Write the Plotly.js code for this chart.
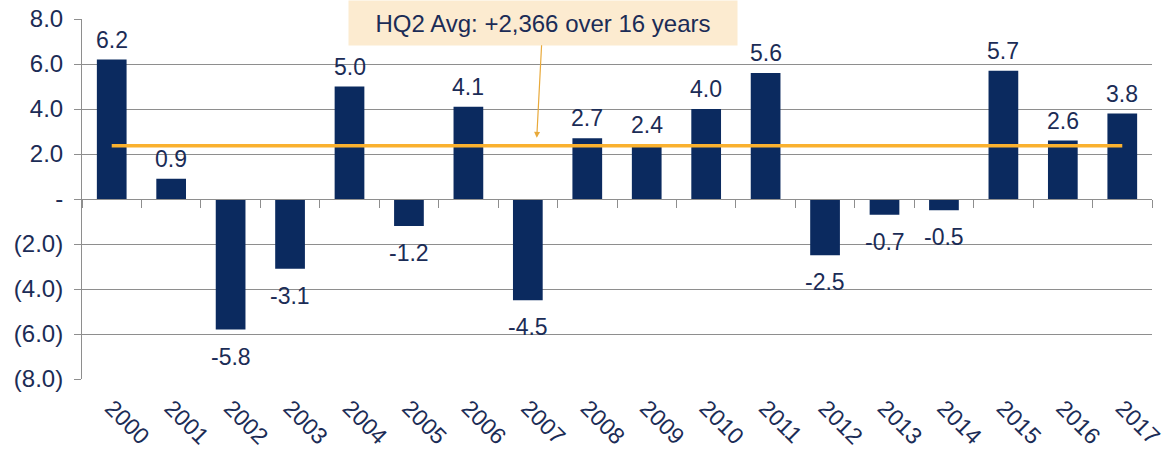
<!DOCTYPE html>
<html>
<head>
<meta charset="utf-8">
<script src="https://cdn.plot.ly/plotly-3.0.1.min.js"></script>
<style>html,body{margin:0;padding:0;background:#fff;}#chart{width:1174px;height:455px;}</style>
</head>
<body>
<div id="chart"></div>
<script>
const years = ['2000','2001','2002','2003','2004','2005','2006','2007','2008','2009','2010','2011','2012','2013','2014','2015','2016','2017'];
const values = [6.2, 0.9, -5.8, -3.1, 5.0, -1.2, 4.1, -4.5, 2.7, 2.4, 4.0, 5.6, -2.5, -0.7, -0.5, 5.7, 2.6, 3.8];
const avgValue = 2.366;
const avgLabel = 'HQ2 Avg: +2,366 over 16 years';
const yTickVals = [8, 6, 4, 2, 0, -2, -4, -6, -8];
const yTickText = ['8.0', '6.0', '4.0', '2.0', '-', '(2.0)', '(4.0)', '(6.0)', '(8.0)'];

const NAVY = '#0B2A5F';
const TXT = '#1B2C56';
const GRID = '#8E8E8E';
const ORANGE = '#FAB12F';
const FONT = 'Liberation Sans, Arial, sans-serif';

const bars = {
  type: 'bar', x: years, y: values, xaxis: 'x', yaxis: 'y',
  marker: {color: NAVY}, hoverinfo: 'x+y'
};
const avgLine = {
  type: 'scatter', mode: 'lines', xaxis: 'x2', yaxis: 'y',
  x: [years[0], years[years.length - 1]], y: [avgValue, avgValue],
  line: {color: ORANGE, width: 3.5}, hoverinfo: 'y'
};

// category axes treat numeric-looking strings as indices in annotations, so use the index
const labelAnns = years.map((yr, i) => ({
  x: i, y: values[i], xref: 'x', yref: 'y',
  text: values[i].toFixed(1), showarrow: false,
  yanchor: values[i] >= 0 ? 'bottom' : 'top',
  yshift: values[i] >= 0 ? 5 : -12,
  font: {family: FONT, size: 23, color: TXT}
}));

const calloutAnn = {
  xref: 'x', yref: 'y', x: 7.15, y: 2.72,
  text: avgLabel, showarrow: true,
  ax: 6, ay: -115, axref: 'pixel', ayref: 'pixel',
  arrowhead: 2, arrowsize: 1, arrowwidth: 1.2, arrowcolor: '#E8A93A',
  bgcolor: '#FCEBD0', width: 388, height: 44, borderpad: 0,
  font: {family: FONT, size: 24, color: TXT}
};

const layout = {
  width: 1174, height: 455,
  margin: {l: 82, r: 22, t: 19, b: 76},
  paper_bgcolor: '#fff', plot_bgcolor: '#fff',
  showlegend: false, bargap: 0.5,
  font: {family: FONT, color: TXT},
  xaxis: {
    type: 'category', range: [-0.5, 17.5], showgrid: false, showline: false,
    ticks: '', tickangle: 45, ticklabelstandoff: 10,
    tickfont: {family: FONT, size: 23, color: TXT},
    zeroline: false, fixedrange: true
  },
  xaxis2: {
    type: 'category', matches: 'x', overlaying: 'x', anchor: 'free', position: 0.5,
    showline: true, linecolor: GRID, linewidth: 1,
    ticks: 'outside', tickson: 'boundaries', ticklen: 8, tickcolor: GRID, tickwidth: 1,
    showticklabels: false, showgrid: false, zeroline: false
  },
  yaxis: {
    range: [-8, 8], tickvals: yTickVals, ticktext: yTickText,
    showgrid: true, gridcolor: GRID, gridwidth: 1,
    showline: true, linecolor: GRID, linewidth: 1,
    ticks: 'outside', ticklen: 7, tickcolor: GRID, ticklabelstandoff: 6,
    zeroline: false, tickfont: {family: FONT, size: 24, color: TXT}
  },
  annotations: labelAnns.concat([calloutAnn])
};

Plotly.newPlot('chart', [bars, avgLine], layout, {displayModeBar: false, staticPlot: true});
</script>
</body>
</html>
